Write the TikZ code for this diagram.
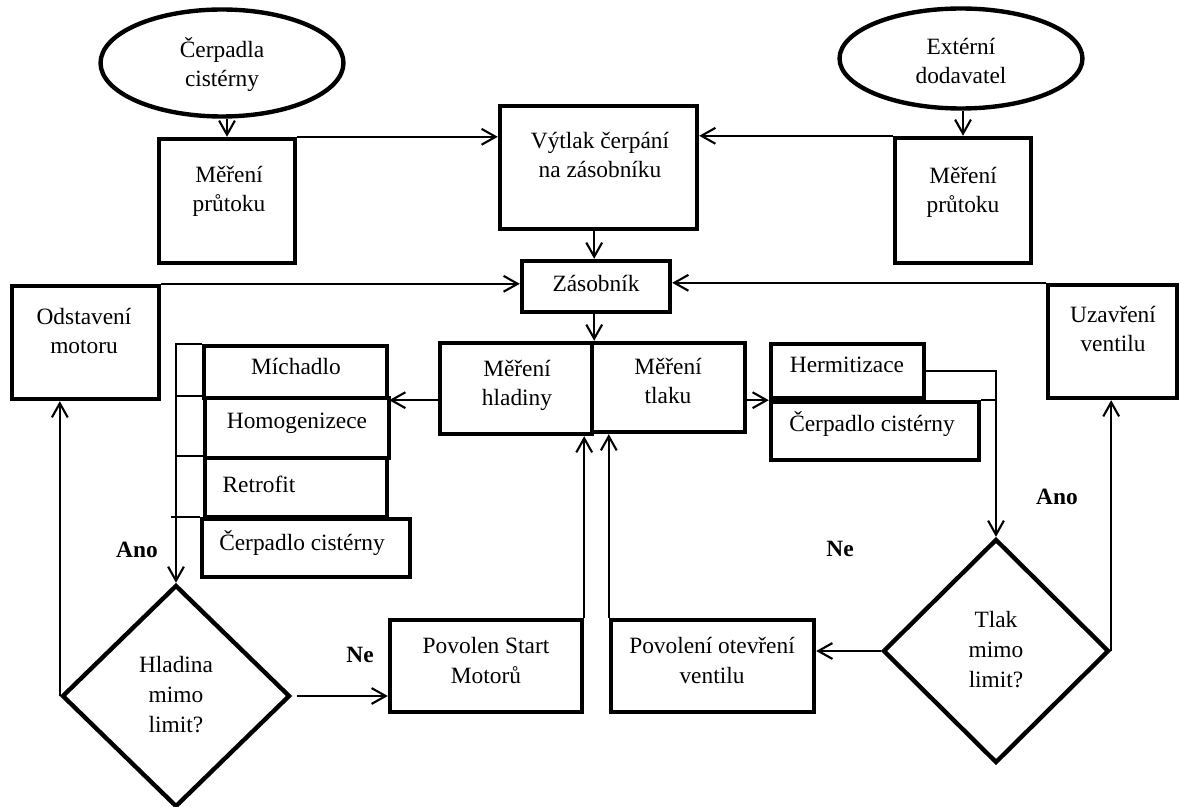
\documentclass[tikz,border=0pt]{standalone}
\usepackage{fontspec}
\setmainfont{Liberation Serif}
\usetikzlibrary{shapes.geometric,arrows.meta,fit}
\begin{document}
\begin{tikzpicture}[x=0.02cm,y=-0.02cm,
  box/.style={draw,line width=2.5pt,inner sep=0pt,line join=miter},
  oval/.style={draw,ellipse,line width=2.5pt,inner sep=0pt},
  dia/.style={draw,diamond,line width=2.5pt,inner sep=0pt,line join=miter},
  txt/.style={font=\fontsize{13.3}{17}\selectfont,align=center,inner sep=0pt,anchor=base},
  lbl/.style={font=\fontsize{13.3}{17}\selectfont\bfseries,inner sep=0pt,anchor=base},
  arr/.style={line width=1.2pt,-{Straight Barb[length=8pt,width=9pt]}},
  conn/.style={line width=1.2pt},
  tick/.style={line width=0.8pt}]
\useasboundingbox (0,0) rectangle (1180,807);

% ellipses
\node[oval,minimum width=4.86cm,minimum height=2.14cm] (e1) at (222,63) {};
\node[oval,minimum width=4.86cm,minimum height=2.0cm] (e2) at (961,58.5) {};
\node[txt] (te1) at (222,87) {Čerpadla\\cistérny};
\node[txt] (te2) at (961,84) {Extérní\\dodavatel};

% boxes
\node[box,fit={(159,139) (295,263)}] (mp1) {};
\node[box,fit={(500,106) (697,229)}] (vt) {};
\node[box,fit={(895,138) (1031,263)}] (mp2) {};
\node[box,fit={(522,261) (670,312)}] (zas) {};
\node[box,fit={(12,286) (159,399)}] (od) {};
\node[box,fit={(1048,285) (1177,398)}] (uz) {};
\node[box,fit={(440,343) (592,434)}] (mh) {};
\node[box,fit={(592,343) (745,432)}] (mt) {};
\node[box,fit={(204,346) (387,398)}] (mich) {};
\node[box,fit={(205,398) (389,458)}] (homo) {};
\node[box,fit={(205,458) (387,517)}] (retro) {};
\node[box,fit={(202,519) (410,577)}] (cc1) {};
\node[box,fit={(771,344) (924,398)}] (herm) {};
\node[box,fit={(771,402) (979,460)}] (cc2) {};
\node[box,fit={(390,620) (582,712)}] (ps) {};
\node[box,fit={(611,620) (814,712)}] (po) {};

% diamonds
\node[dia,minimum width=4.56cm,minimum height=4.44cm] (hl) at (176,696) {};
\node[dia,minimum width=4.52cm,minimum height=4.48cm] (tl) at (996,651) {};

% texts (anchor = baseline of last line)
\node[txt] (tmp1) at (229,212) {Měření\\průtoku};
\node[txt] (tmp2) at (963,213) {Měření\\průtoku};
\node[txt] (tvt) at (600,178) {Výtlak čerpání\\na zásobníku};
\node[txt] (tzas) at (596,292) {Zásobník};
\node[txt] (tod) at (84,354) {Odstavení\\motoru};
\node[txt] (tuz) at (1113,352) {Uzavření\\ventilu};
\node[txt] (tmh) at (517,406) {Měření\\hladiny};
\node[txt] (tmt) at (668,404) {Měření\\tlaku};
\node[txt] (tmich) at (296,375) {Míchadlo};
\node[txt] (thomo) at (297,429) {Homogenizece};
\node[txt] (tretro) at (259,492) {Retrofit};
\node[txt] (tcc1) at (302,550) {Čerpadlo cistérny};
\node[txt] (therm) at (847,373) {Hermitizace};
\node[txt] (tcc2) at (872,432) {Čerpadlo cistérny};
\node[txt] (tps) at (486,683) {Povolen Start\\Motorů};
\node[txt] (tpo) at (712,683) {Povolení otevření\\ventilu};
\node[txt] (thl) at (176,732) {Hladina\\mimo\\limit?};
\node[txt] (ttl) at (996,687) {Tlak\\mimo\\limit?};

% labels
\node[lbl] (ano1) at (137,557) {Ano};
\node[lbl] (ne1) at (360,662) {Ne};
\node[lbl] (ne2) at (840,556) {Ne};
\node[lbl] (ano2) at (1057,504) {Ano};

% connectors
\draw[arr] (mp1.north |- e1.south) -- (mp1.north);
\draw[arr] (mp2.north |- e2.south) -- (mp2.north);
\draw[arr] (mp1.north east) -- (mp1.north east -| vt.west);
\draw[arr] (mp2.north west) -- (mp2.north west -| vt.east);
\draw[arr] (vt.south -| mh.north east) -- (zas.north -| mh.north east);
\draw[arr] (od.north east) -- (od.north east -| zas.west);
\draw[arr] (uz.north west) -- (uz.north west -| zas.east);
\draw[arr] (zas.south -| mh.north east) -- (mh.north east);
\draw[arr] (mh.west |- mich.south east) -- (mich.south east);
\draw[arr] (mt.east |- herm.south west) -- (herm.south west);
\draw[arr] (herm.east) -| (tl.north);
\draw[tick] (cc2.north east) -- (cc2.north east -| tl.north);
\draw[arr] (mich.north west) -| (hl.north);
\draw[tick] (homo.north west) -- (homo.north west -| hl.north);
\draw[tick] (retro.north west) -- (retro.north west -| hl.north);
\draw[tick] (cc1.north west) -- ([xshift=-0.1cm]cc1.north west -| hl.north);
\draw[arr] (hl.west) -- (hl.west |- od.south);
\draw[arr] ([xshift=0.1cm]hl.east) -- (hl.east -| ps.west);
\draw[arr] (ps.north east) -- (ps.north east |- mh.south);
\draw[arr] (po.north west) -- (po.north west |- mt.south);
\draw[arr] (tl.west) -- (tl.west -| po.east);
\draw[arr] (tl.east) -- (tl.east |- uz.south);
\end{tikzpicture}
\end{document}
